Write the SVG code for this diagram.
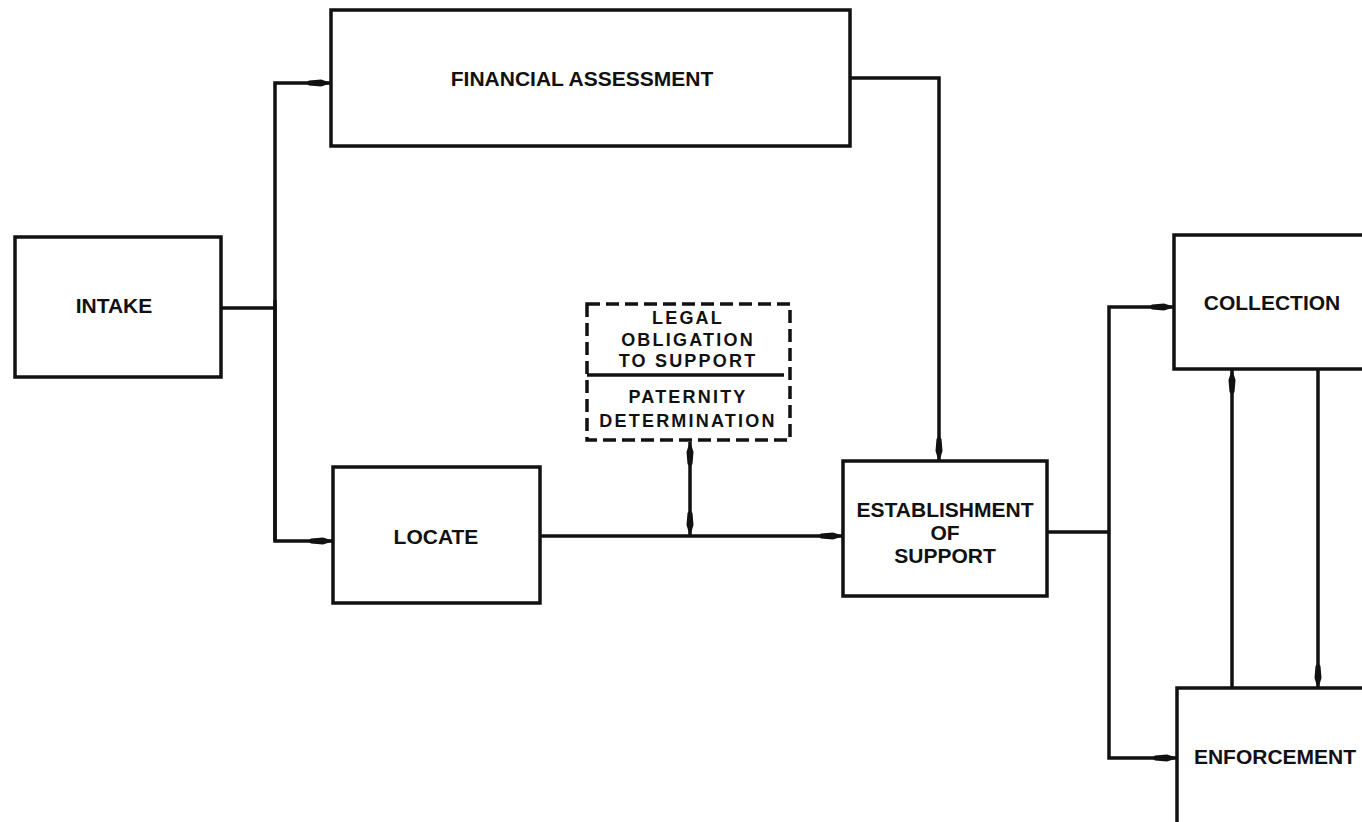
<svg xmlns="http://www.w3.org/2000/svg" width="1362" height="822" viewBox="0 0 1362 822">
<style>
.box{fill:#fff;stroke:#111;stroke-width:3.5}
.dash{fill:#fff;stroke:#111;stroke-width:3.5;stroke-dasharray:13 6}
.lbl{font-family:"Liberation Sans",Arial,sans-serif;font-weight:bold;font-size:21px;fill:#111;text-anchor:middle}
.sm{font-family:"Liberation Sans",Arial,sans-serif;font-weight:bold;font-size:18px;fill:#111;text-anchor:middle;letter-spacing:2.2px}
.ln{fill:none;stroke:#111;stroke-width:3.5}
</style>
<defs>
<marker id="ah" viewBox="0 -4 26 8" refX="25" refY="0" markerWidth="26" markerHeight="8" markerUnits="userSpaceOnUse" orient="auto-start-reverse">
<path d="M26,0 L15,-3.5 L3,-2.5 L0,0 L3,2.5 L15,3.5 Z" fill="#111"/>
</marker>
</defs>
<rect width="1362" height="822" fill="#fff"/>
<g id="connectors">
<path class="ln" d="M221,308 H275"/>
<path class="ln" d="M275,541 V83 H331" marker-end="url(#ah)"/>
<path class="ln" d="M275,300 V541 H333" marker-end="url(#ah)"/>
<path class="ln" d="M850,78 H939 V461" marker-end="url(#ah)"/>
<path class="ln" d="M540,536 H843" marker-end="url(#ah)"/>
<path class="ln" d="M690,442 V535" marker-start="url(#ah)" marker-end="url(#ah)"/>
<path class="ln" d="M1047,532 H1109"/>
<path class="ln" d="M1109,532 V307 H1174" marker-end="url(#ah)"/>
<path class="ln" d="M1109,532 V758 H1177" marker-end="url(#ah)"/>
<path class="ln" d="M1232,688 V370" marker-end="url(#ah)"/>
<path class="ln" d="M1318,370 V688" marker-end="url(#ah)"/>
</g>
<g id="intake">
<rect class="box" x="15" y="237" width="206" height="140"/>
<text class="lbl" x="114" y="313">INTAKE</text>
</g>
<g id="financial-assessment">
<rect class="box" x="331" y="10" width="519" height="136"/>
<text class="lbl" x="582" y="86">FINANCIAL ASSESSMENT</text>
</g>
<g id="locate">
<rect class="box" x="333" y="467" width="207" height="136"/>
<text class="lbl" x="436" y="544">LOCATE</text>
</g>
<g id="legal-obligation">
<rect class="dash" x="587" y="304" width="203" height="136"/>
<path class="ln" d="M587,375 H784"/>
<text class="sm" x="688" y="324">LEGAL</text>
<text class="sm" x="688" y="346">OBLIGATION</text>
<text class="sm" x="688" y="367">TO SUPPORT</text>
<text class="sm" x="688" y="403">PATERNITY</text>
<text class="sm" x="688" y="427">DETERMINATION</text>
</g>
<g id="establishment">
<rect class="box" x="843" y="461" width="204" height="135"/>
<text class="lbl" x="945" y="517">ESTABLISHMENT</text>
<text class="lbl" x="945" y="540">OF</text>
<text class="lbl" x="945" y="563">SUPPORT</text>
</g>
<g id="collection">
<rect class="box" x="1174" y="235" width="260" height="134"/>
<text class="lbl" x="1272" y="310">COLLECTION</text>
</g>
<g id="enforcement">
<rect class="box" x="1177" y="688" width="260" height="200"/>
<text class="lbl" x="1275" y="764">ENFORCEMENT</text>
</g>
</svg>
